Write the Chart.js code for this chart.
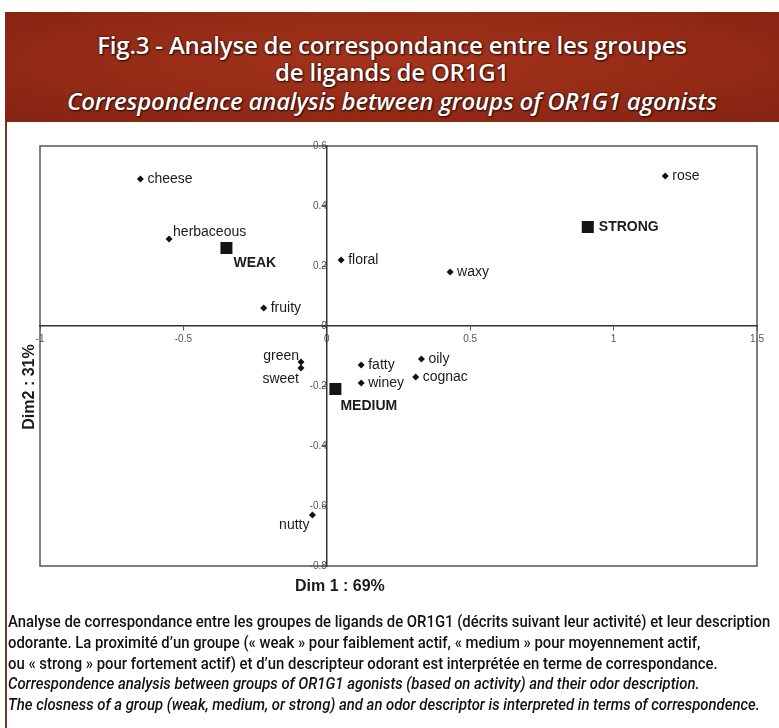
<!DOCTYPE html>
<html>
<head>
<meta charset="utf-8">
<script src="https://cdn.jsdelivr.net/npm/chart.js@4.4.1/dist/chart.umd.min.js"></script>
<style>
  body { margin: 0; background: #fff; width: 779px; height: 728px; overflow: hidden; position: relative; }
  #c { position: absolute; left: 0; top: 0; }
  .head {
    position: absolute; left: 5px; top: 12px; width: 774px; height: 110px;
    background: radial-gradient(ellipse at 50% 45%, #a5341c 0%, #952b16 55%, #842312 100%);
    color: #fff; text-align: center; font-family: "Open Sans", sans-serif; font-weight: 600;
    text-shadow: 1px 1px 2px #2a0800, 0 0 2px #2a0800;
  }
  .head div { position: absolute; left: 0; width: 100%; font-size: 24px; line-height: 28px; letter-spacing: -0.2px; }
  .sideline { position: absolute; left: 5px; top: 122px; width: 2px; height: 606px; background: #6e3b2a; }
  .axt { position: absolute; font-family: "Liberation Sans", Arial, sans-serif; font-weight: bold; font-size: 16px; color: #1b1b1b; white-space: nowrap; }
  .cap { position: absolute; left: 8px; font-family: Roboto, "Noto Sans", sans-serif; font-weight: 500; font-size: 16px; color: #111; white-space: nowrap; line-height: 20px; transform-origin: 0 50%; }
</style>
</head>
<body>
<div class="head">
  <div style="top:19px">Fig.3 - Analyse de correspondance entre les groupes</div>
  <div style="top:46px">de ligands de OR1G1</div>
  <div style="top:75px;font-style:italic">Correspondence analysis between groups of OR1G1 agonists</div>
</div>
<div class="sideline"></div>
<canvas id="c" width="779" height="728"></canvas>
<div class="axt" style="left:295px;top:577px">Dim 1 : 69%</div>
<div class="axt" style="left:-21px;top:378px;transform:rotate(-90deg);transform-origin:50% 50%;width:100px;text-align:center">Dim2 : 31%</div>
<div class="cap" id="cap1" style="top:612px">Analyse de correspondance entre les groupes de ligands de OR1G1 (décrits suivant leur activité) et leur description</div>
<div class="cap" style="top:633px">odorante. La proximité d’un groupe (« weak » pour faiblement actif, « medium » pour moyennement actif,</div>
<div class="cap" style="top:654px">ou « strong » pour fortement actif) et d’un descripteur odorant est interprétée en terme de correspondance.</div>
<div class="cap" style="top:674px;font-style:italic">Correspondence analysis between groups of OR1G1 agonists (based on activity) and their odor description.</div>
<div class="cap" style="top:695px;font-style:italic">The closness of a group (weak, medium, or strong) and an odor descriptor is interpreted in terms of correspondence.</div>
<script>
// odor descriptors (small diamonds)
const descriptors = ['cheese', 'herbaceous', 'fruity', 'floral', 'rose', 'waxy', 'green', 'sweet', 'nutty', 'fatty', 'winey', 'oily', 'cognac'];
const descX = [-0.65, -0.55, -0.22, 0.05, 1.18, 0.43, -0.09, -0.09, -0.05, 0.12, 0.12, 0.33, 0.31];
const descY = [0.49, 0.29, 0.06, 0.22, 0.50, 0.18, -0.12, -0.14, -0.63, -0.13, -0.19, -0.11, -0.17];

// activity groups (big squares)
const groups = ['WEAK', 'MEDIUM', 'STRONG'];
const groupX = [-0.35, 0.03, 0.91];
const groupY = [0.26, -0.21, 0.33];

const xTicks = [-1, -0.5, 0, 0.5, 1, 1.5];
const yTicks = [0.6, 0.4, 0.2, 0, -0.2, -0.4, -0.6, -0.8];

// label offsets, px from the mark: [dx, dy, align]
const labelPlace = {
    herbaceous: [4, -7, 'left'],
    green: [-2, -6, 'right'],
    sweet: [-2, 11, 'right'],
    nutty: [-3, 10, 'right'],
    WEAK: [7, 15, 'left'],
    MEDIUM: [5, 17, 'left'],
    STRONG: [11, 0, 'left']
};

// squeeze the caption like the condensed face of the original
const cap1 = document.getElementById('cap1');
const k = 762 / cap1.scrollWidth;
document.querySelectorAll('.cap').forEach(el => { el.style.transform = 'scaleX(' + k + ')'; });

const frameAndLabels = {
    id: 'frameAndLabels',
    beforeDraw(chart) {
        const a = chart.chartArea;
        const ctx = chart.ctx;
        ctx.save();
        ctx.strokeStyle = '#555';
        ctx.lineWidth = 1.5;
        ctx.strokeRect(a.left, a.top, a.right - a.left, a.bottom - a.top);
        ctx.restore();
    },
    afterDatasetsDraw(chart) {
        const ctx = chart.ctx;
        ctx.save();
        ctx.fillStyle = '#1b1b1b';
        ctx.textBaseline = 'middle';
        chart.data.datasets.forEach((ds, di) => {
            const meta = chart.getDatasetMeta(di);
            ctx.font = (di === 1 ? 'bold ' : '') + '14px "Liberation Sans", Arial, sans-serif';
            meta.data.forEach((pt, i) => {
                const name = ds.names[i];
                const p = labelPlace[name] || [7, 0, 'left'];
                ctx.textAlign = p[2];
                ctx.fillText(name, pt.x + p[0], pt.y + p[1]);
            });
        });
        ctx.restore();
    }
};

const tickFont = { family: '"Liberation Sans", Arial, sans-serif', size: 10 };

new Chart(document.getElementById('c'), {
    type: 'scatter',
    data: {
        datasets: [{
            names: descriptors,
            data: descX.map((x, i) => ({ x: x, y: descY[i] })),
            pointStyle: 'rectRot',
            pointRadius: 3.5,
            backgroundColor: '#111',
            borderColor: '#111',
            borderWidth: 0
        }, {
            names: groups,
            data: groupX.map((x, i) => ({ x: x, y: groupY[i] })),
            pointStyle: 'rect',
            pointRadius: 8.5,
            backgroundColor: '#151515',
            borderColor: '#151515',
            borderWidth: 0
        }]
    },
    options: {
        responsive: false,
        animation: false,
        layout: { padding: { left: 40, top: 146, right: 22, bottom: 162 } },
        plugins: {
            legend: { display: false },
            tooltip: { enabled: false }
        },
        scales: {
            x: {
                type: 'linear',
                min: -1,
                max: 1.5,
                position: { y: 0 },
                afterBuildTicks: s => { s.ticks = xTicks.map(v => ({ value: v })); },
                ticks: { color: '#555', font: tickFont, padding: 3, maxRotation: 0, autoSkip: false, callback: v => String(v) },
                grid: { drawOnChartArea: false, drawTicks: true, tickLength: 4, color: '#555' },
                border: { display: true, color: '#333', width: 1.5 }
            },
            y: {
                type: 'linear',
                min: -0.8,
                max: 0.6,
                position: { x: 0 },
                afterBuildTicks: s => { s.ticks = yTicks.map(v => ({ value: v })); },
                ticks: { color: '#555', font: tickFont, padding: 3, autoSkip: false, callback: v => String(v) },
                grid: { drawOnChartArea: false, drawTicks: true, tickLength: 4, color: '#555' },
                border: { display: true, color: '#333', width: 1.5 }
            }
        }
    },
    plugins: [frameAndLabels]
});
</script>
</body>
</html>
